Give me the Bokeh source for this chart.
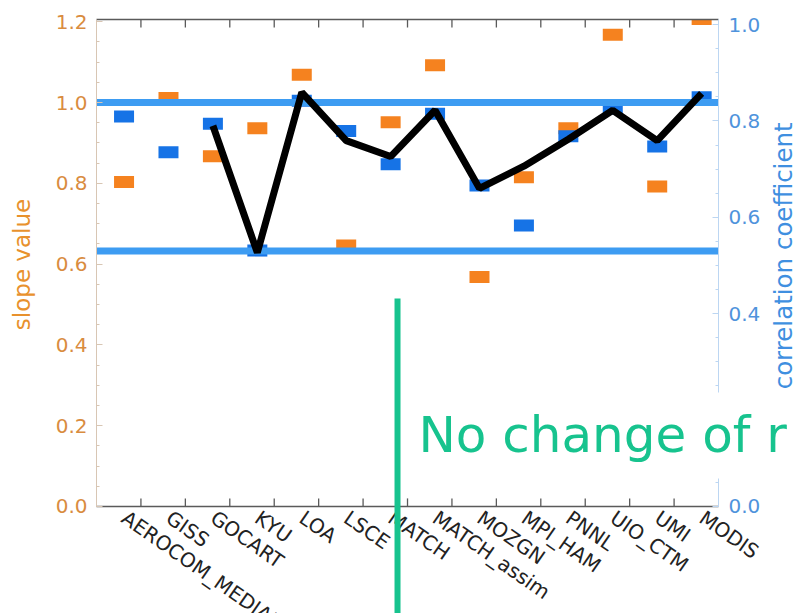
import math
from bokeh.plotting import figure
from bokeh.models import (Range1d, LinearAxis, FixedTicker, Label, Arrow, BoxAnnotation,
                          ColumnDataSource, PrintfTickFormatter)
from bokeh.embed import file_html
from bokeh.resources import INLINE

# ---------------- data ----------------
models = ["AEROCOM_MEDIAN", "GISS", "GOCART", "KYU", "LOA", "LSCE", "MATCH",
          "MATCH_assim", "MOZGN", "MPI_HAM", "PNNL", "UIO_CTM", "UMI", "MODIS"]
slope = [0.803, 1.011, 0.867, 0.936, 1.069, 0.646, 0.951,
         1.092, 0.568, 0.815, 0.936, 1.168, 0.792, 1.207]
corr = [0.809, 0.735, 0.794, 0.531, 0.842, 0.779, 0.710,
        0.815, 0.666, 0.583, 0.768, 0.825, 0.747, 0.849]
# overlaid black line (from GOCART onwards)
corr_line = [0.790, 0.527, 0.859, 0.759, 0.726, 0.822,
             0.660, 0.706, 0.762, 0.822, 0.759, 0.857]
corr_band = [0.838, 0.530]          # two horizontal blue lines (correlation units)
slope_ticks = [0.0, 0.2, 0.4, 0.6, 0.8, 1.0, 1.2]
corr_ticks = [0.0, 0.2, 0.4, 0.6, 0.8, 1.0]
x_ticks = list(range(1, 14))
note_text = "No change of r"
slope_title = "slope value"
corr_title = "correlation coefficient"

# ---------------- styling / layout constants ----------------
ORANGE = "#f5821f"
BLUE_MK = "#1673e6"
BLUE_LN = "#3d9cf2"
GREEN = "#17c38e"
DARK = "#5a5a5a"
X_OFF = 0.62          # marker offset inside each category slot
X_END = 14            # right edge of the plot box (data units)
X_MIN, X_MAX = -2.1607, 15.8
S_BOX = 1.2054        # top of the plot box (slope units)
C_BOX = 1.0104        # top of the plot box (correlation units)
S_TOP, S_BOT = 1.2525, -0.2649
C_TOP, C_BOT = 1.0498, -0.222
TICK_LEN = 0.02

xpos = [i + X_OFF for i in range(len(models))]
xline = xpos[2:]

p = figure(width=798, height=613, x_range=Range1d(X_MIN, X_MAX), y_range=Range1d(S_BOT, S_TOP),
           x_axis_type=None, y_axis_type=None,
           output_backend="svg", toolbar_location=None,
           min_border_left=0, min_border_right=0, min_border_top=0, min_border_bottom=0)
p.extra_y_ranges = {"corr": Range1d(C_BOT, C_TOP)}
p.grid.visible = False
p.outline_line_color = None
p.background_fill_color = "white"
p.border_fill_color = "white"

# markers
src = ColumnDataSource(dict(x=xpos, slope=slope, corr=corr))
p.rect(x="x", y="slope", width=20, height=12, width_units="screen", height_units="screen",
       source=src, fill_color=ORANGE, line_color=None)
p.rect(x="x", y="corr", width=20, height=12, width_units="screen", height_units="screen",
       source=src, fill_color=BLUE_MK, line_color=None, y_range_name="corr")

# horizontal blue lines across the plot box
p.segment(x0=[0] * 2, x1=[X_END] * 2, y0=corr_band, y1=corr_band, y_range_name="corr",
          line_color=BLUE_LN, line_width=7)

# black line
p.line(x=xline, y=corr_line, y_range_name="corr", line_color="black", line_width=7,
       line_join="bevel")

# mask anything poking out above the plot box
p.add_layout(BoxAnnotation(left=0, right=X_END, bottom=S_BOX, fill_color="white",
                           fill_alpha=1.0, line_color=None, level="glyph"))

# bottom axis (drawn at y=0) carrying the model names
bax = LinearAxis(fixed_location=0, bounds=(0, X_END),
                 ticker=FixedTicker(ticks=xpos),
                 major_label_overrides={x: m for x, m in zip(xpos, models)},
                 major_label_orientation=-0.61, major_label_standoff=9,
                 major_label_text_font="DejaVu Sans", major_label_text_font_size="20px",
                 major_label_text_color="#222222",
                 major_tick_in=0, major_tick_out=0, minor_tick_in=0, minor_tick_out=0,
                 axis_line_color=DARK, axis_line_width=1.5)
p.add_layout(bax, "below")

# top frame line
tax = LinearAxis(fixed_location=S_BOX, bounds=(0, X_END), ticker=FixedTicker(ticks=[]),
                 major_tick_in=0, major_tick_out=0, minor_tick_in=0, minor_tick_out=0,
                 axis_line_color=DARK, axis_line_width=1.5)
p.add_layout(tax, "above")

# inward tick marks at slot boundaries (bottom and top)
p.segment(x0=x_ticks, x1=x_ticks, y0=[0] * 13, y1=[TICK_LEN] * 13,
          line_color=DARK, line_width=1.3)
p.segment(x0=x_ticks, x1=x_ticks, y0=[S_BOX] * 13, y1=[S_BOX - TICK_LEN] * 13,
          line_color=DARK, line_width=1.3)

minor_s = [round(0.05 * k, 2) for k in range(0, 25)]
lax = LinearAxis(fixed_location=0, bounds=(0, S_BOX),
                 ticker=FixedTicker(ticks=slope_ticks, minor_ticks=minor_s),
                 formatter=PrintfTickFormatter(format="%.1f"),
                 major_label_text_color="#d98c3f", major_label_text_font="DejaVu Sans",
                 major_label_text_font_size="20px", major_label_standoff=9,
                 major_tick_in=6, major_tick_out=0, minor_tick_in=3, minor_tick_out=0,
                 axis_line_color="#d8c6b4", major_tick_line_color="#d8c6b4",
                 minor_tick_line_color="#d8c6b4")
p.add_layout(lax, "left")
p.add_layout(Label(x=-1.666, y=0.599, text=slope_title,
                   angle=math.pi / 2, text_align="center", text_baseline="middle",
                   text_font="DejaVu Sans", text_font_size="23px", text_color="#e8912d"))

minor_c = [round(0.05 * k, 2) for k in range(0, 21)]
rax = LinearAxis(y_range_name="corr", fixed_location=X_END, bounds=(0, C_BOX),
                 ticker=FixedTicker(ticks=corr_ticks, minor_ticks=minor_c),
                 formatter=PrintfTickFormatter(format="%.1f"),
                 major_label_text_color="#4f93dc", major_label_text_font="DejaVu Sans",
                 major_label_text_font_size="20px", major_label_standoff=10,
                 major_tick_in=6, major_tick_out=0, minor_tick_in=3, minor_tick_out=0,
                 axis_line_color="#bcd6f2", major_tick_line_color="#bcd6f2",
                 minor_tick_line_color="#bcd6f2")
p.add_layout(rax, "right")
p.add_layout(Label(x=15.46, y=0.52, y_range_name="corr", text=corr_title,
                   angle=math.pi / 2, text_align="center", text_baseline="middle",
                   text_font="DejaVu Sans", text_font_size="24.5px", text_color="#3f8fe0"))

# green annotation
NOTE_LINE_X = 6.775
p.add_layout(Arrow(end=None, x_start=NOTE_LINE_X, y_start=0.515, x_end=NOTE_LINE_X,
                   y_end=S_BOT - 0.05, line_color=GREEN, line_width=6))
p.add_layout(Label(x=6.93, y=0.176, text=note_text, text_font="DejaVu Sans",
                   text_font_size="50px", text_color=GREEN, text_baseline="alphabetic",
                   background_fill_color="white", padding=14))

open("out.html", "w").write(file_html(p, INLINE))
